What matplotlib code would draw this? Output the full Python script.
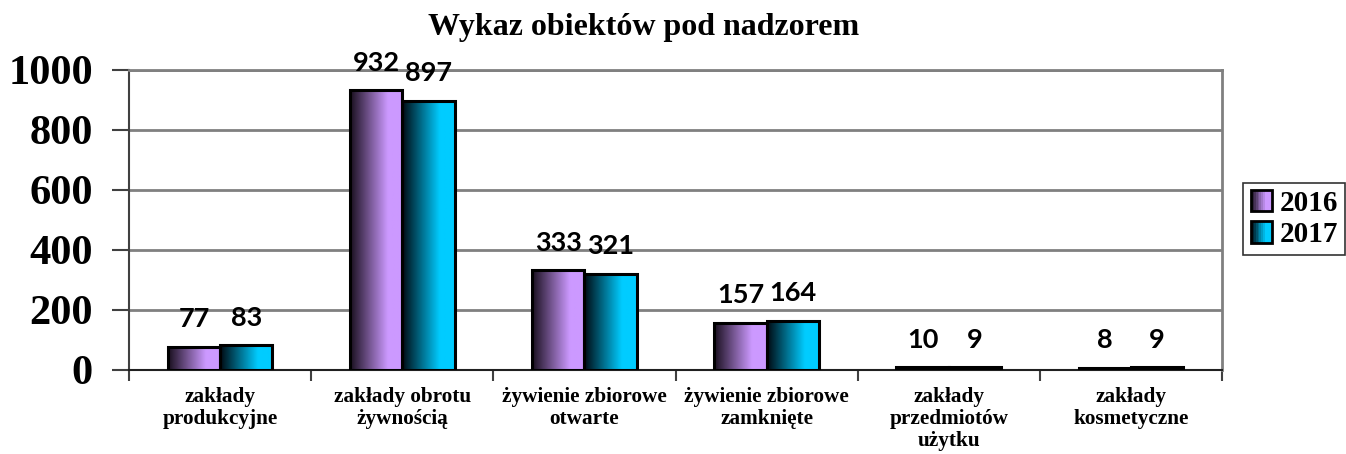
import numpy as np
import matplotlib
matplotlib.use("Agg")
import matplotlib.pyplot as plt
from matplotlib.patches import Rectangle
from matplotlib.legend_handler import HandlerBase
from matplotlib.colors import to_rgb

categories = ["zakłady\nprodukcyjne", "zakłady obrotu\nżywnością", "żywienie zbiorowe\notwarte",
              "żywienie zbiorowe\nzamknięte", "zakłady\nprzedmiotów\nużytku", "zakłady\nkosmetyczne"]
years = ["2016", "2017"]
values_2016 = [77, 932, 333, 157, 10, 8]
values_2017 = [83, 897, 321, 164, 9, 9]
yticks = [0, 200, 400, 600, 800, 1000]
title = "Wykaz obiektów pod nadzorem"

dark_2016, light_2016 = (0.10, 0.06, 0.12), to_rgb("#CC99FF")
dark_2017, light_2017 = (0.0, 0.04, 0.07), to_rgb("#00CCFF")

serif = "Liberation Serif"

def grad_colors(c0, c1, n=64, frac=0.72):
    t = np.clip(np.linspace(0, 1, n) / frac, 0, 1)
    c0 = np.array(c0); c1 = np.array(c1)
    return (c0[None, :] * (1 - t[:, None]) + c1[None, :] * t[:, None])

fig = plt.figure(figsize=(13.46, 4.54), dpi=100)
ax = fig.add_axes([129/1346, 1 - 370/454, (1222-129)/1346, 300/454])

x = np.arange(len(categories))
w = 0.287

def draw_bars(xpos, vals, c0, c1):
    bars = ax.bar(xpos, vals, width=w, facecolor="none", edgecolor="black", linewidth=2.2, zorder=4)
    img = grad_colors(c0, c1)[None, :, :]
    for b in bars:
        x0, y0 = b.get_x(), b.get_y()
        bw, bh = b.get_width(), b.get_height()
        im = ax.imshow(img, extent=(x0, x0 + bw, y0, y0 + bh), aspect="auto",
                       interpolation="bilinear", zorder=3, origin="lower")
        im.set_clip_path(b)
    return bars

b1 = draw_bars(x - w/2, values_2016, dark_2016, light_2016)
b2 = draw_bars(x + w/2, values_2017, dark_2017, light_2017)

for bars, vals in ((b1, values_2016), (b2, values_2017)):
    for b, v in zip(bars, vals):
        ax.annotate(str(v), (b.get_x() + b.get_width()/2, v), xytext=(0, 14),
                    textcoords="offset points", ha="center", va="baseline",
                    fontsize=19.5, fontweight="bold", family="Lato", zorder=6)

ax.set_xlim(-0.5, len(categories) - 0.5)
ax.set_ylim(0, 1000)
ax.set_yticks(yticks)
ax.set_yticklabels([str(t) for t in yticks], fontsize=30.5, fontweight="bold", family=serif)
ax.yaxis.grid(True, color="#808080", linewidth=2, zorder=1)
ax.set_axisbelow(True)

ax.set_xticks(np.arange(len(categories) + 1) - 0.5)
ax.set_xticklabels([])
ax.set_xticks(x, minor=True)
ax.set_xticklabels(categories, minor=True, fontsize=15.3, fontweight="bold", family=serif,
                   linespacing=1.15)
ax.tick_params(axis="x", which="minor", length=0, pad=12)
ax.tick_params(axis="x", which="major", length=8, width=1.5, color="#404040", direction="out")
ax.tick_params(axis="y", length=12, width=1.5, color="#404040", pad=14)

for s in ("top", "right"):
    ax.spines[s].set_color("#808080")
    ax.spines[s].set_linewidth(2)
ax.spines["left"].set_color("#404040")
ax.spines["left"].set_linewidth(1.5)
ax.spines["bottom"].set_color("#202020")
ax.spines["bottom"].set_linewidth(1.5)

fig.text(644/1346, 1 - 35/454, title, ha="center", va="baseline", fontsize=23,
         fontweight="bold", family=serif)

class GradHandler(HandlerBase):
    def __init__(self, c0, c1):
        super().__init__()
        self.c0, self.c1 = c0, c1
    def create_artists(self, legend, orig_handle, xdescent, ydescent, width, height, fontsize, trans):
        cols = grad_colors(self.c0, self.c1, n=12)
        s = height
        x0 = -xdescent + (width - s) / 2
        y0 = -ydescent
        arts = []
        for i, c in enumerate(cols):
            arts.append(Rectangle((x0 + i * s / len(cols), y0), s / len(cols) + 0.3, s,
                                  facecolor=c, edgecolor="none", transform=trans))
        arts.append(Rectangle((x0, y0), s, s, facecolor="none", edgecolor="black",
                              linewidth=2, transform=trans))
        return arts

h1, h2 = Rectangle((0, 0), 1, 1), Rectangle((0, 0), 1, 1)
leg = fig.legend([h1, h2], years, loc="center left", bbox_to_anchor=(1243/1346, 1 - 219/454),
                 handler_map={h1: GradHandler(dark_2016, light_2016), h2: GradHandler(dark_2017, light_2017)},
                 prop={"family": serif, "weight": "bold", "size": 21},
                 frameon=True, fancybox=False, edgecolor="black", handlelength=0.75, handleheight=0.75,
                 handletextpad=0.25, borderpad=0.25, labelspacing=0.15, borderaxespad=0)
leg.get_frame().set_linewidth(1.2)

fig.savefig("out.png", dpi=100)
